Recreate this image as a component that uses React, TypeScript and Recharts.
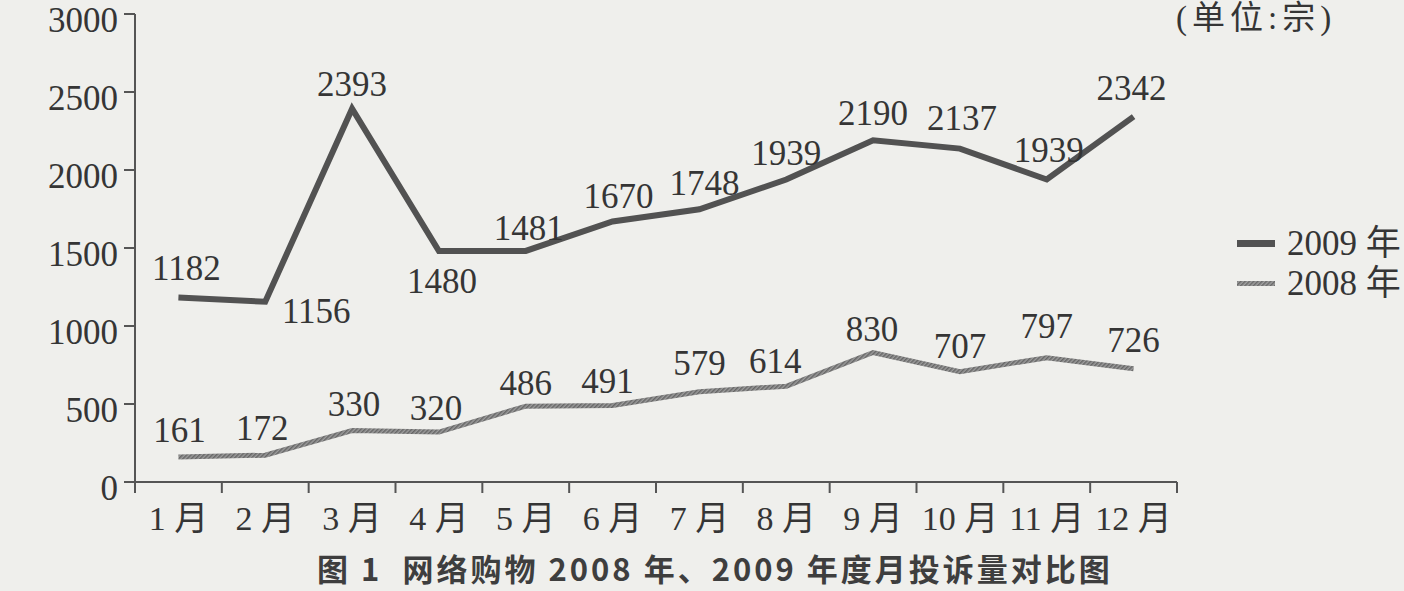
import React from 'react';
import { LineChart, Line, XAxis, YAxis, LabelList, Legend } from 'recharts';

const months = ['1 月', '2 月', '3 月', '4 月', '5 月', '6 月', '7 月', '8 月', '9 月', '10 月', '11 月', '12 月'];
const values2009 = [1182, 1156, 2393, 1480, 1481, 1670, 1748, 1939, 2190, 2137, 1939, 2342];
const values2008 = [161, 172, 330, 320, 486, 491, 579, 614, 830, 707, 797, 726];
const yTicks = [0, 500, 1000, 1500, 2000, 2500, 3000];
const seriesNames = ['2009 年', '2008 年'];
const titleText = '图 1  网络购物 2008 年、2009 年度月投诉量对比图';
const unitText = '(单位:宗)';

const data = months.map((m, i) => ({ month: m, y2009: values2009[i], y2008: values2008[i] }));

// label styling offsets (dx, dy relative to point)
const LABEL_DX_2009 = [8, 51, 0, 3, 3, 6, 5, 0, 0, 2, 2, -2];
const LABEL_DY_2009 = [-18, 21, -13, 42, -11, -13, -14, -15, -15, -19, -18, -17];
const LABEL_DX_2008 = [1, -3, 2, -3, 0, -5, 0, -11, -1, 0, 0, 0];
const LABEL_DY_2008 = [-15, -15, -15, -12, -11, -12, -17, -13, -12, -14, -20, -17];

const SERIF = '"Liberation Serif", "Noto Sans CJK SC", serif';
const TEXT = '#353535';
const AXIS = '#555555';
const DARK = '#525252';
const BG = '#efefec';

const X_TICK_SIZE = 10;
const X_TICK_MARGIN = 8;

const makeLabel = (dxs: number[], dys: number[]) => (props: any) => {
  const { x, y, value, index } = props;
  return (
    <text
      x={x + (dxs[index] || 0)}
      y={y + (dys[index] || 0)}
      textAnchor="middle"
      fontFamily={SERIF}
      fontSize={35}
      fill={TEXT}
    >
      {value}
    </text>
  );
};

const XTick = (props: any) => {
  const { x, y, payload, index, visibleTicksCount, width } = props;
  const half = payload && payload.offset ? payload.offset : width / visibleTicksCount / 2;
  const axisY = y - X_TICK_SIZE - X_TICK_MARGIN;
  const left = x - half;
  const right = x + half;
  return (
    <g>
      <line x1={left} x2={left} y1={axisY} y2={axisY + 11} stroke={AXIS} strokeWidth={2} />
      {index === visibleTicksCount - 1 && (
        <line x1={right} x2={right} y1={axisY} y2={axisY + 11} stroke={AXIS} strokeWidth={2} />
      )}
      <text x={x} y={axisY + 48} textAnchor="middle" fontFamily={SERIF} fontSize={34} fill={TEXT}>
        {payload.value}
      </text>
    </g>
  );
};

const YTick = (props: any) => {
  const { x, y, payload } = props;
  return (
    <text x={x} y={y + 18} textAnchor="end" fontFamily={SERIF} fontSize={35} fill={TEXT}>
      {payload.value}
    </text>
  );
};

const Swatch = ({ hatch }: { hatch: boolean }) => (
  <svg width={38} height={8} style={{ display: 'block' }}>
    <defs>
      <pattern id="legendHatch" width="3" height="3" patternUnits="userSpaceOnUse" patternTransform="rotate(45)">
        <rect width="3" height="3" fill="#a0a0a0" />
        <rect width="1.5" height="3" fill="#6a6a6a" />
      </pattern>
    </defs>
    <rect x={0} y={hatch ? 1 : 0} width={38} height={hatch ? 5 : 7} fill={hatch ? 'url(#legendHatch)' : DARK} />
  </svg>
);

const LegendContent = () => (
  <div style={{ fontFamily: SERIF, fontSize: 35, color: TEXT }}>
    {seriesNames.map((name, i) => (
      <div key={name} style={{ display: 'flex', alignItems: 'center', height: 40, whiteSpace: 'nowrap' }}>
        <Swatch hatch={i === 1} />
        <span style={{ marginLeft: 12, lineHeight: '40px' }}>{name}</span>
      </div>
    ))}
  </div>
);

export default function App() {
  return (
    <div
      style={{
        position: 'absolute',
        left: 0,
        top: 0,
        width: 1404,
        height: 591,
        overflow: 'hidden',
        background: BG,
      }}
    >
      <LineChart
        width={1404}
        height={591}
        data={data}
        margin={{ top: 14, right: 227, bottom: 49, left: 0 }}
      >
        <defs>
          <pattern id="hatch2008" width="3" height="3" patternUnits="userSpaceOnUse" patternTransform="rotate(45)">
            <rect width="3" height="3" fill="#9c9c9c" />
            <rect width="1.5" height="3" fill="#666666" />
          </pattern>
        </defs>
        <XAxis
          dataKey="month"
          scale="band"
          interval={0}
          height={60}
          tickLine={false}
          tickSize={X_TICK_SIZE}
          tickMargin={X_TICK_MARGIN}
          axisLine={{ stroke: AXIS, strokeWidth: 2 }}
          tick={<XTick />}
        />
        <YAxis
          width={135}
          domain={[0, 3000]}
          ticks={yTicks}
          interval={0}
          tickSize={11}
          tickMargin={6}
          axisLine={{ stroke: AXIS, strokeWidth: 2 }}
          tickLine={{ stroke: AXIS, strokeWidth: 2 }}
          tick={<YTick />}
        />
        <Legend
          layout="horizontal"
          verticalAlign="middle"
          align="center"
          content={<LegendContent />}
          wrapperStyle={{ position: 'absolute', left: 1237, top: 224, width: 220, height: 80 }}
        />
        <Line
          type="linear"
          dataKey="y2009"
          name={seriesNames[0]}
          stroke={DARK}
          strokeWidth={6}
          dot={false}
          isAnimationActive={false}
          strokeLinejoin="miter"
        >
          <LabelList dataKey="y2009" content={makeLabel(LABEL_DX_2009, LABEL_DY_2009)} />
        </Line>
        <Line
          type="linear"
          dataKey="y2008"
          name={seriesNames[1]}
          stroke="url(#hatch2008)"
          strokeWidth={5}
          dot={false}
          isAnimationActive={false}
        >
          <LabelList dataKey="y2008" content={makeLabel(LABEL_DX_2008, LABEL_DY_2008)} />
        </Line>
      </LineChart>
      <div
        style={{
          position: 'absolute',
          left: 1176,
          top: 0,
          fontFamily: SERIF,
          fontSize: 33,
          lineHeight: '36px',
          color: TEXT,
          whiteSpace: 'nowrap',
          letterSpacing: 5,
        }}
      >
        {unitText}
      </div>
      <div
        style={{
          position: 'absolute',
          left: 317,
          top: 551,
          fontFamily: '"Noto Sans CJK SC", sans-serif',
          fontWeight: 700,
          fontSize: 31,
          lineHeight: '34px',
          color: '#3e3e3e',
          whiteSpace: 'pre',
          letterSpacing: 3,
        }}
      >
        {titleText}
      </div>
    </div>
  );
}
